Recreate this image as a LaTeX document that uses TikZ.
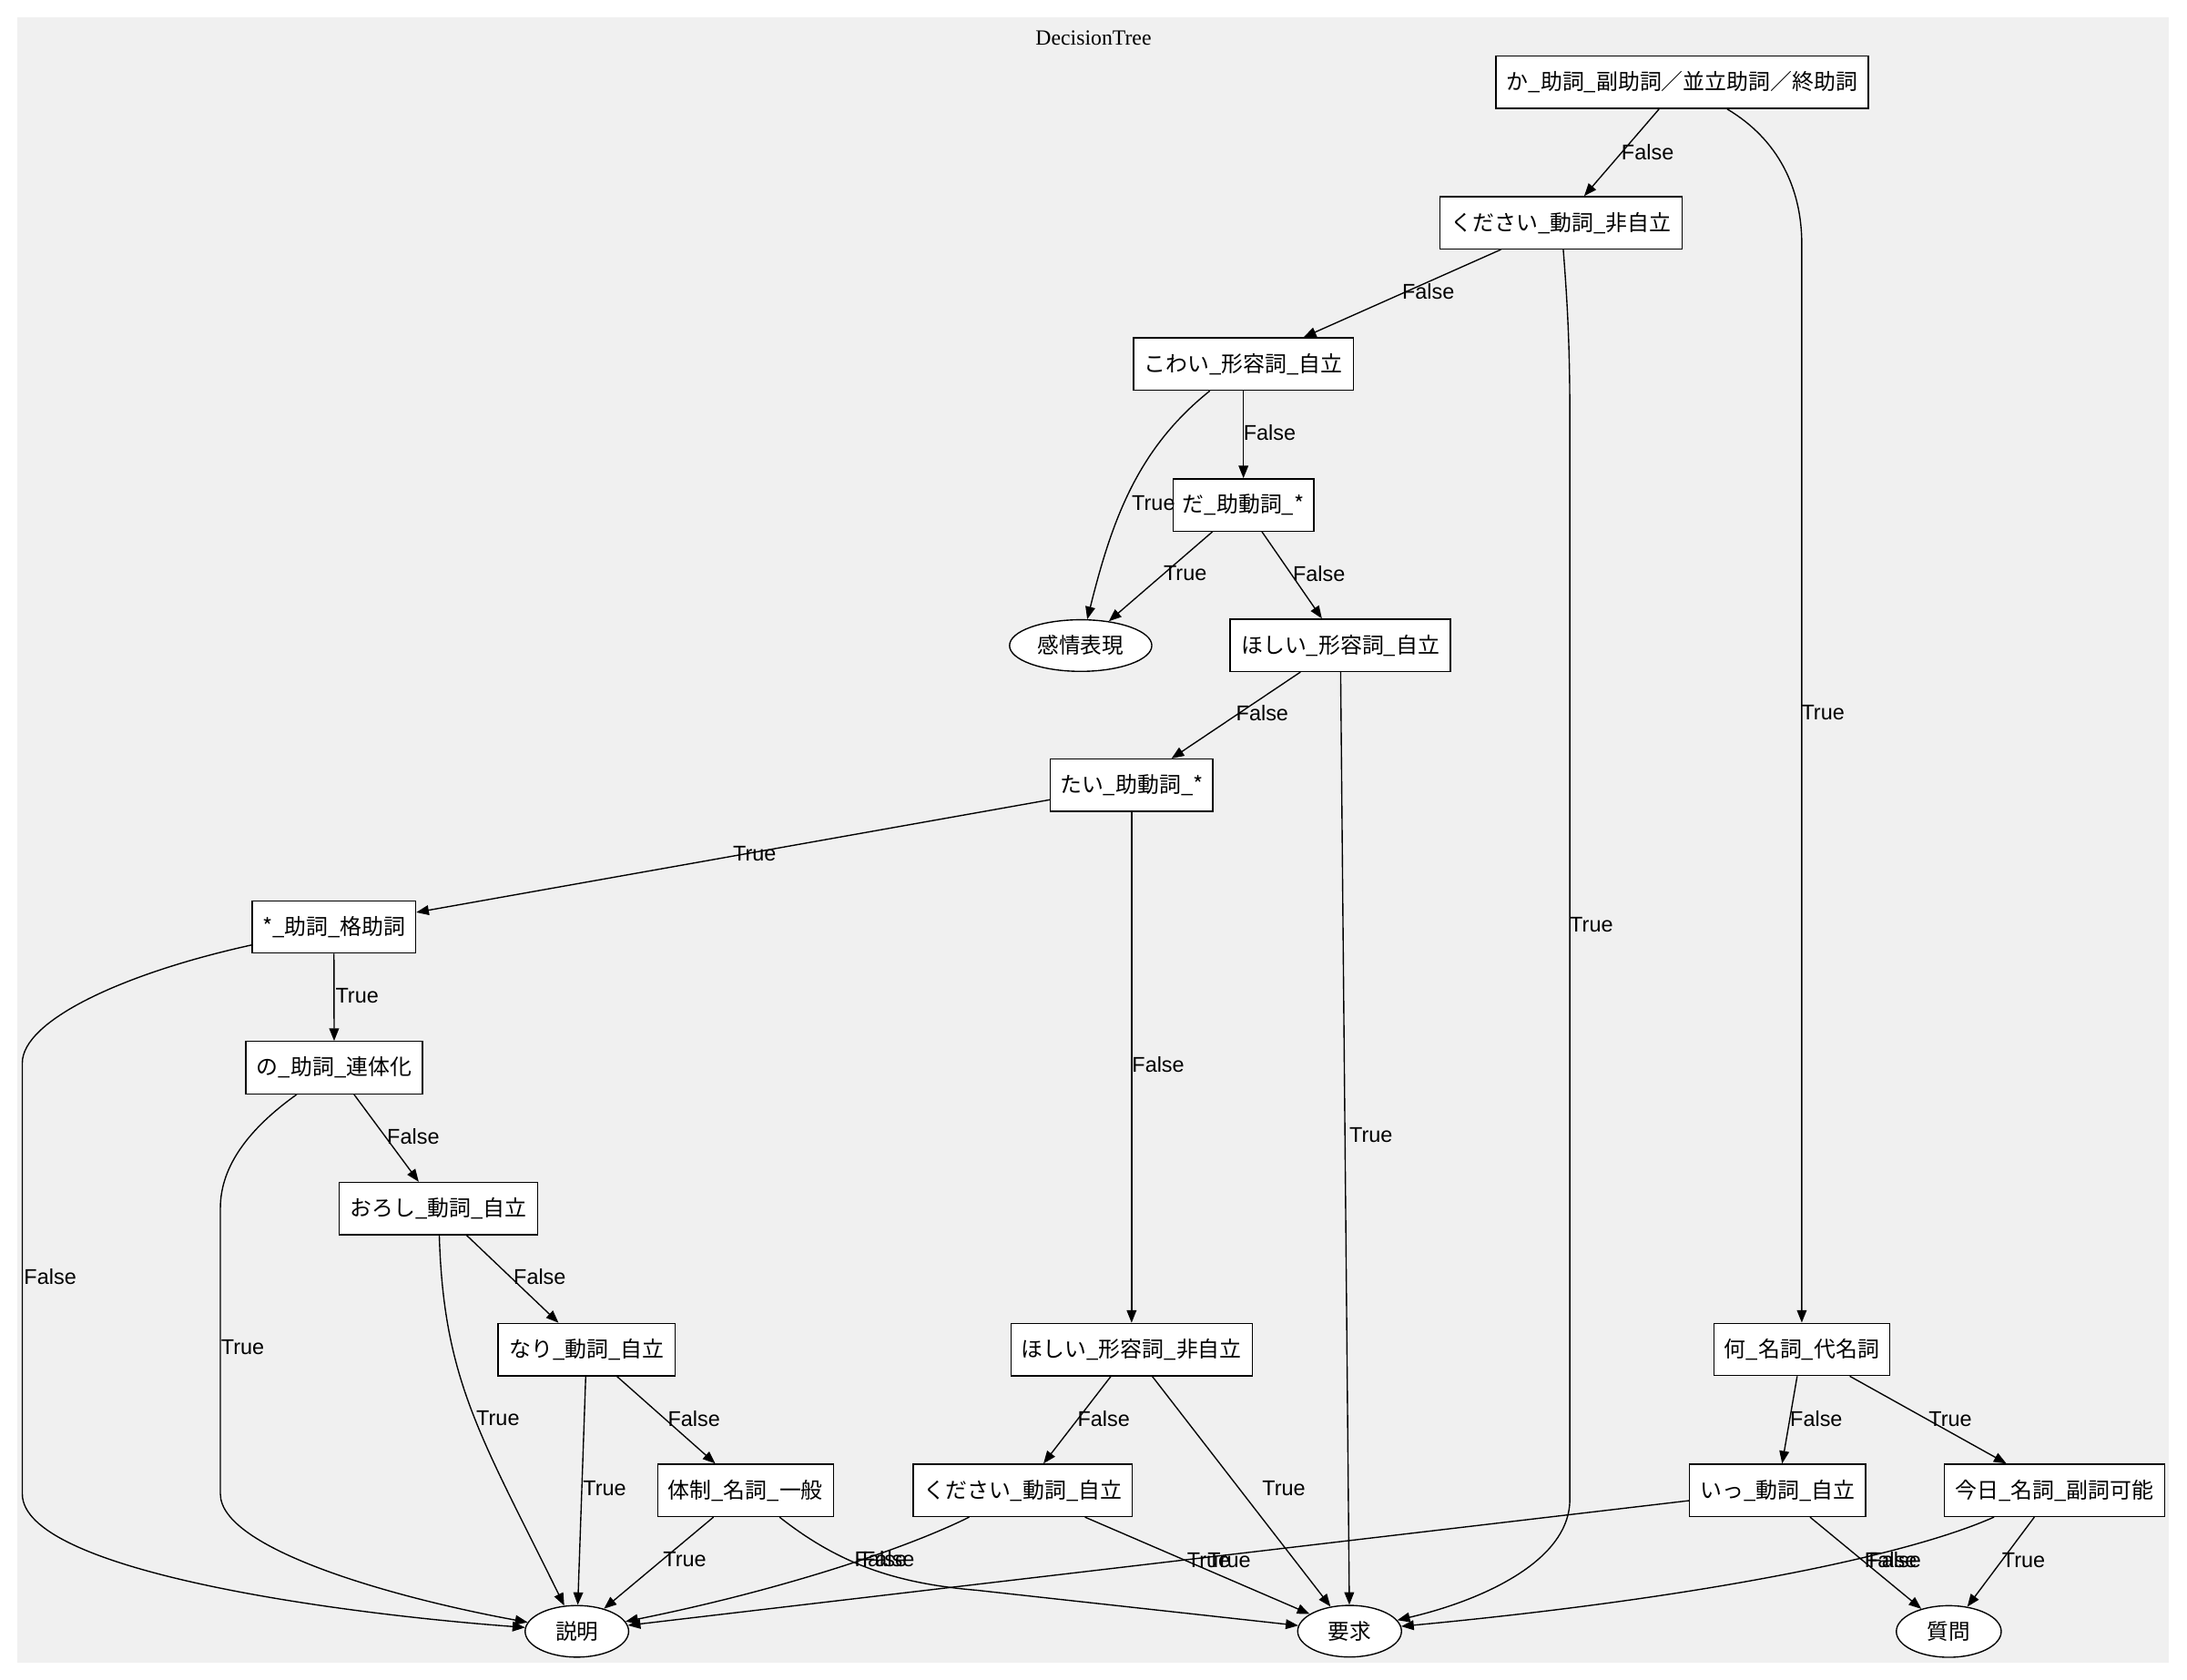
\documentclass[tikz,border=0pt]{standalone}
\usepackage{fontspec}
\setmainfont{Liberation Sans}
\newfontfamily\cjkfont{Noto Sans CJK JP}
\newfontfamily\seriffont{Liberation Serif}
\usetikzlibrary{arrows.meta,shapes.geometric}
\definecolor{bgc}{HTML}{F0F0F0}
\tikzset{
  box/.style={draw=black, fill=white, rectangle, line width=0.9pt, minimum height=37.5pt, inner sep=0pt,
    font=\cjkfont\fontsize{15.6}{18}\selectfont},
  leaf/.style={draw=black, fill=white, ellipse, line width=0.9pt, minimum height=37pt, inner sep=0pt,
    font=\cjkfont\fontsize{15.4}{18}\selectfont},
  lbl/.style={inner sep=0pt, font=\fontsize{15.3}{18}\selectfont},
  edge/.style={-{Triangle[length=9pt,width=7pt]}, line width=0.9pt, black}
}
\begin{document}
\begin{tikzpicture}[x=1pt,y=-1pt]
\useasboundingbox (0,0) rectangle (1568,1204);
\fill[white] (0,0) rectangle (1568,1204);
\fill[bgc] (12.2,12.3) rectangle (1555,1192);
\node[inner sep=0pt, font=\seriffont\fontsize{15.5}{18}\selectfont] (title) at (784,27.2) {DecisionTree};

% decision nodes
\node[box, minimum width=267pt]   (n1)  at (1206,59)      {か\_助詞\_副助詞／並立助詞／終助詞};
\node[box, minimum width=173.5pt] (n2)  at (1119.3,159.7) {ください\_動詞\_非自立};
\node[box, minimum width=157.7pt] (n3)  at (891.5,261)    {こわい\_形容詞\_自立};
\node[box, minimum width=101pt]   (n4)  at (891.5,362)    {だ\_助動詞\_*};
\node[leaf, minimum width=102pt]  (n5)  at (774.8,462.8)  {感情表現};
\node[box, minimum width=158pt]   (n6)  at (961,462.6)    {ほしい\_形容詞\_自立};
\node[box, minimum width=116.6pt] (n7)  at (811.3,563)    {たい\_助動詞\_*};
\node[box, minimum width=117.2pt] (n8)  at (239.4,664.5)  {*\_助詞\_格助詞};
\node[box, minimum width=126.7pt] (n9)  at (239.6,765.4)  {の\_助詞\_連体化};
\node[box, minimum width=142.2pt] (n10) at (314.4,866.4)  {おろし\_動詞\_自立};
\node[box, minimum width=127pt]   (n11) at (420.6,967.5)  {なり\_動詞\_自立};
\node[box, minimum width=126pt]   (n12) at (534.5,1068.4) {体制\_名詞\_一般};
\node[box, minimum width=173pt]   (n13) at (811.3,967.5)  {ほしい\_形容詞\_非自立};
\node[box, minimum width=157.2pt] (n14) at (733.3,1068.4) {ください\_動詞\_自立};
\node[box, minimum width=126.2pt] (n15) at (1291.8,967.4) {何\_名詞\_代名詞};
\node[box, minimum width=126.2pt] (n16) at (1274.4,1068.4) {いっ\_動詞\_自立};
\node[box, minimum width=158pt]   (n17) at (1472.9,1068.4) {今日\_名詞\_副詞可能};
\node[leaf, minimum width=74.2pt] (n18) at (413.6,1169.5) {説明};
\node[leaf, minimum width=74.4pt] (n19) at (967.6,1169.4) {要求};
\node[leaf, minimum width=75.2pt] (n20) at (1397.2,1169.6) {質問};

% connectors
\draw[edge] (n1) -- (n2);
\draw[edge] (n1) .. controls (1275,100) and (1291.8,135) .. (1291.8,175) -- (n15);
\draw[edge] (n2) -- (n3);
\draw[edge] (n2) .. controls (1124,220) and (1125.5,250) .. (1125.5,300) -- (1125.5,1075)
  .. controls (1125.5,1120) and (1060,1148) .. (n19);
\draw[edge] (n3) .. controls (815,322) and (797,374) .. (n5);
\draw[edge] (n3) -- (n4);
\draw[edge] (n4) -- (n5);
\draw[edge] (n4) -- (n6);
\draw[edge] (n6) -- (n7);
\draw[edge] (n6) -- (n19);
\draw[edge] (n7) -- (n8);
\draw[edge] (n7) -- (n13);
\draw[edge] (n8) .. controls (87,698) and (16,732) .. (16,762) -- (16,1071)
  .. controls (16,1125) and (233,1156) .. (n18);
\draw[edge] (n8) -- (n9);
\draw[edge] (n9) .. controls (180,808) and (158,835) .. (158,866) -- (158,1071)
  .. controls (158,1110) and (280,1145) .. (n18);
\draw[edge] (n9) -- (n10);
\draw[edge] (n10) .. controls (318,990) and (345,1030) .. (n18);
\draw[edge] (n10) -- (n11);
\draw[edge] (n11) -- (n18);
\draw[edge] (n11) -- (n12);
\draw[edge] (n12) -- (n18);
\draw[edge] (n12) .. controls (600,1120) and (640,1135) .. (700,1140) -- (n19);
\draw[edge] (n13) -- (n14);
\draw[edge] (n13) -- (n19);
\draw[edge] (n14) .. controls (650,1110) and (560,1140) .. (n18);
\draw[edge] (n14) -- (n19);
\draw[edge] (n15) -- (n16);
\draw[edge] (n15) -- (n17);
\draw[edge] (n16) -- (n18);
\draw[edge] (n16) -- (n20);
\draw[edge] (n17) .. controls (1362,1117.6) and (1206,1147) .. (n19);
\draw[edge] (n17) -- (n20);

% connector labels
\node[lbl] (l1)  at (1181.3,108.8) {False};
\node[lbl] (l2)  at (1307,511)     {True};
\node[lbl] (l3)  at (1024,209)     {False};
\node[lbl] (l4)  at (1141,663)     {True};
\node[lbl] (l5)  at (827,360.5)    {True};
\node[lbl] (l6)  at (910.3,310)    {False};
\node[lbl] (l7)  at (849.7,411.2)  {True};
\node[lbl] (l8)  at (945.7,411.2)  {False};
\node[lbl] (l9)  at (905,511)      {False};
\node[lbl] (l10) at (983,814)      {True};
\node[lbl] (l11) at (541,612)      {True};
\node[lbl] (l12) at (830.4,763)    {False};
\node[lbl] (l13) at (36,915.5)     {False};
\node[lbl] (l14) at (256,714)      {True};
\node[lbl] (l15) at (174,966)      {True};
\node[lbl] (l16) at (296.3,814.6)  {False};
\node[lbl] (l17) at (357,1017)     {True};
\node[lbl] (l18) at (387,915.6)    {False};
\node[lbl] (l19) at (433.5,1067.2) {True};
\node[lbl] (l20) at (497.6,1017.2) {False};
\node[lbl] (l21) at (490.9,1117.7) {True};
\node[lbl] (l22) at (637,1117.7)   {False};
\node[lbl] (l23) at (631.5,1117.7) {False};
\node[lbl] (l24) at (866.6,1118.4) {True};
\node[lbl] (l25) at (881.2,1118.4) {True};
\node[lbl] (l26) at (791.3,1017.2) {False};
\node[lbl] (l27) at (920.4,1067.2) {True};
\node[lbl] (l28) at (1355.6,1118.4) {False};
\node[lbl] (l29) at (1302.2,1017.2) {False};
\node[lbl] (l30) at (1398.3,1017.2) {True};
\node[lbl] (l31) at (1358.6,1118.4) {False};
\node[lbl] (l32) at (1450.8,1118.4) {True};
\end{tikzpicture}
\end{document}
